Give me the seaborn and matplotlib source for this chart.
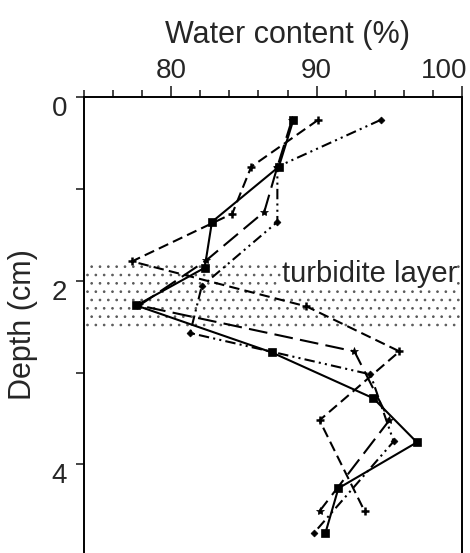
import matplotlib
matplotlib.use("Agg")
import matplotlib.pyplot as plt
import seaborn as sns
import pandas as pd
from matplotlib.ticker import FixedLocator, NullFormatter
from matplotlib.transforms import ScaledTranslation

# ---- data ----
depth_a = [0.25, 0.76, 1.36, 1.86, 2.27, 2.78, 3.28, 3.76, 4.26, 4.75]
water_a = [88.4, 87.4, 82.8, 82.3, 77.6, 86.9, 93.9, 96.9, 91.5, 90.6]

depth_b = [0.25, 0.76, 1.27, 1.79, 2.28, 2.77, 3.52, 4.51]
water_b = [90.1, 85.5, 84.2, 77.3, 89.3, 95.7, 90.2, 93.3]

depth_c = [0.25, 0.76, 1.25, 1.78, 2.27, 2.77, 3.52, 4.51]
water_c = [88.3, 87.3, 86.4, 82.4, 77.8, 92.6, 95.0, 90.2]

depth_d = [0.25, 0.76, 1.36, 2.06, 2.57, 3.02, 3.75, 4.75]
water_d = [94.4, 87.3, 87.3, 82.1, 81.3, 93.7, 95.3, 89.8]

turbidite = (1.77, 2.53)
x_major = [80, 90, 100]
x_minor = list(range(74, 101, 2))
y_major = [0, 2, 4]
y_minor = [1, 3]

sns.set_style("ticks")
plt.rcParams['font.family'] = ['Liberation Sans', 'DejaVu Sans']

fig = plt.figure(figsize=(4.70, 5.53), dpi=100)
ax = fig.add_axes([84/470, 0.0, 378/470, 456/553])

common = dict(color='black', markeredgecolor='black', markerfacecolor='black', linewidth=1.5)
series = [
    (water_a, depth_a, dict(linestyle='-', marker='s', markersize=6, markeredgewidth=0.5)),
    (water_b, depth_b, dict(linestyle=(0, (5, 2.5)), marker='+', markersize=6, markeredgewidth=1.8)),
    (water_c, depth_c, dict(linestyle=(0, (9, 3.5)), marker='*', markersize=6, markeredgewidth=0.5)),
    (water_d, depth_d, dict(linestyle=(0, (5, 2, 1, 2, 1, 2)), marker='D', markersize=3.5, markeredgewidth=0.5)),
]
for xs, ys, kw in series:
    df = pd.DataFrame({'water': xs, 'depth': ys})
    sns.lineplot(data=df, x='water', y='depth', sort=False, estimator=None,
                 ax=ax, **common, **kw)

band = ax.axhspan(turbidite[0], turbidite[1], facecolor='none', edgecolor='0.35',
                  hatch='..', linewidth=0, zorder=0)
try:
    band.set_hatch_linewidth(0.7)
except Exception:
    pass
ax.text(99.65, 1.93, 'turbidite layer', ha='right', va='center', fontsize=21,
        bbox=dict(facecolor='white', edgecolor='none', pad=0.5), zorder=1)

ax.set_xlim(74, 100)
ax.set_ylim(4.965, 0)
ax.xaxis.tick_top()
ax.xaxis.set_label_position('top')
ax.set_xlabel('Water content (%)', fontsize=22)
ax.xaxis.set_label_coords(0.538, 1.0 + 54/456)
ax.set_ylabel('Depth (cm)', fontsize=22, labelpad=10)

ax.xaxis.set_major_locator(FixedLocator(x_major))
ax.xaxis.set_minor_locator(FixedLocator(x_minor))
ax.yaxis.set_major_locator(FixedLocator(y_major))
ax.yaxis.set_minor_locator(FixedLocator(y_minor))
ax.yaxis.set_minor_formatter(NullFormatter())
ax.tick_params(axis='x', which='major', length=8, width=1.2, labelsize=20, pad=1.5, direction='out')
ax.tick_params(axis='x', which='minor', length=5, width=1.2, direction='out')
ax.tick_params(axis='y', which='both', length=6, width=1.2, labelsize=20, pad=6, direction='out')

# keep the "100" label inside the picture, as in the reference
last = ax.xaxis.get_major_ticks()[-1].label2
last.set_horizontalalignment('right')
last.set_transform(last.get_transform() + ScaledTranslation(5/100, 0, fig.dpi_scale_trans))

# depth labels sit a little below their ticks in the reference
for t in ax.yaxis.get_major_ticks():
    t.label1.set_transform(t.label1.get_transform() + ScaledTranslation(0, -9/100, fig.dpi_scale_trans))

for s in ['top', 'left', 'right']:
    ax.spines[s].set_visible(True)
    ax.spines[s].set_linewidth(1.4)
    ax.spines[s].set_color('black')
ax.spines['bottom'].set_visible(False)

fig.savefig('out.png', dpi=100)
